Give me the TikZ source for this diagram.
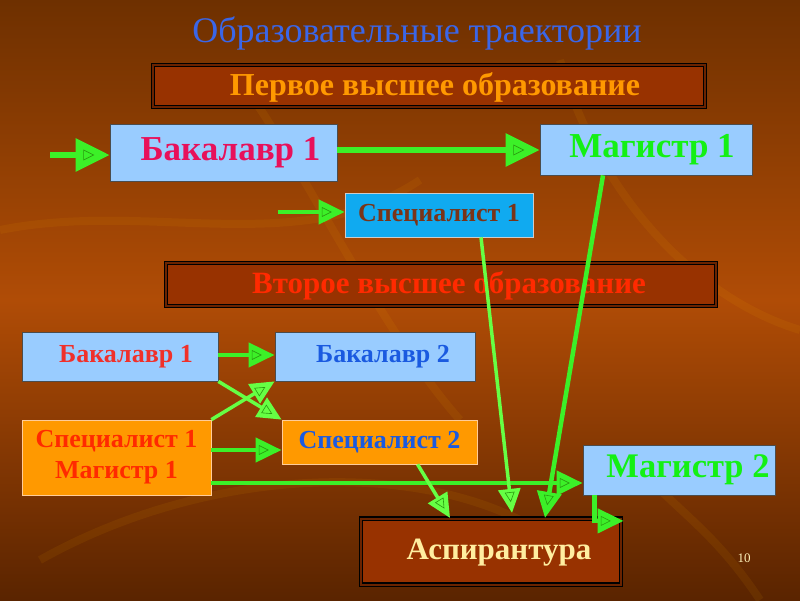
\documentclass[tikz,border=0pt]{standalone}
\usepackage{fontspec}
\setmainfont{Liberation Serif}
\usetikzlibrary{arrows.meta,calc,decorations.markings}
\definecolor{bgtop}{HTML}{6E3000}
\definecolor{bgmid}{HTML}{B04C06}
\definecolor{bgbot}{HTML}{5A2400}
\definecolor{titleblue}{HTML}{3A66E8}
\definecolor{darkbox}{HTML}{983200}
\definecolor{lightblue}{HTML}{99CCFF}
\definecolor{cyanbox}{HTML}{10AAF0}
\definecolor{orangebox}{HTML}{FF9900}
\definecolor{garrow}{HTML}{3CF028}
\definecolor{glight}{HTML}{66FF44}
\definecolor{ginner}{HTML}{2A9A10}
\definecolor{txtpink}{HTML}{E8105A}
\definecolor{txtgreen}{HTML}{14F014}
\definecolor{txtbrown}{HTML}{7A3418}
\definecolor{txtred}{HTML}{FF2A00}
\definecolor{txtred2}{HTML}{F0302A}
\definecolor{txtblue}{HTML}{1A5AE0}
\definecolor{txtcream}{HTML}{FFEEA0}
\begin{document}
\begin{tikzpicture}[x=1pt,y=-1pt,
  every node/.style={inner sep=0pt, font=\bfseries},
  bandbox/.style={draw=black, fill=darkbox, line width=1.2pt, double=darkbox!70!black, double distance=2pt},
  bluebox/.style={draw=black!70, fill=lightblue, line width=0.8pt},
  cyanbx/.style={draw=black!20, fill=cyanbox, line width=0.8pt},
  orbox/.style={draw=orange!40, fill=orangebox, line width=0.8pt},
  inner/.style 2 args={postaction={decorate, decoration={markings,
     mark=at position #1 with {\draw[draw=ginner, line width=0.6pt, arrows=-] (-#2,-#2) -- (#2,0) -- (-#2,#2) -- cycle;}}}},
  bigarrow/.style={draw=garrow, line width=6pt, -{Triangle[length=34pt,width=32pt]}, inner={-21pt}{5}},
  smallarrow/.style={draw=garrow, line width=4.5pt, -{Triangle[length=26pt,width=24pt]}, inner={-18pt}{4.5}},
  thinarrow/.style={draw=glight, line width=3.5pt, -{Triangle[length=24pt,width=22pt]}, inner={-16pt}{4.5}}
]
\useasboundingbox (0,0) rectangle (800,600);
% background
\shade[top color=bgtop, bottom color=bgbot, middle color=bgmid] (0,0) rectangle (800,600);
\begin{scope}[opacity=0.08, line width=8pt, draw=orange!60!yellow]
  \draw (0,230) .. controls (150,200) and (300,260) .. (420,180);
  \draw (240,80) .. controls (300,160) and (380,330) .. (460,420);
  \draw (560,60) .. controls (600,200) and (700,300) .. (800,330);
  \draw (40,560) .. controls (200,470) and (400,460) .. (520,520);
  \draw (650,480) .. controls (690,520) and (720,540) .. (760,600);
\end{scope}
% title
\node[font=\fontsize{36}{40}\selectfont, text=titleblue] (title) at (417,33) {Образовательные траектории};
% band 1
\node[bandbox, minimum width=552pt, minimum height=42pt] (band1) at (429,86) {};
\node[font=\bfseries\fontsize{32}{34}\selectfont, text=orangebox] (band1t) at (435,87) {Первое высшее образование};
% top row
\node[bluebox, minimum width=227pt, minimum height=57pt, font=\bfseries\fontsize{35}{37}\selectfont, text=txtpink] (bak1) at (223.5,152.5) {\hspace*{14pt}Бакалавр 1};
\node[bluebox, minimum width=212pt, minimum height=51pt, font=\bfseries\fontsize{35}{37}\selectfont, text=txtgreen] (mag1) at (646,149.5) {\hspace*{12pt}Магистр 1};
\node[cyanbx, minimum width=188pt, minimum height=44pt, font=\bfseries\fontsize{26}{28}\selectfont, text=txtbrown] (spec1) at (439,215) {Специалист 1};
\coordinate (in1) at (50,155);
\coordinate (in2) at (278,212);
\draw[bigarrow] (in1) -- (in1 -| bak1.west);
\draw[bigarrow] (bak1.east |- 0,150) -- (mag1.west |- 0,150);
\draw[smallarrow] (in2) -- (in2 -| spec1.west);
% band 2
\node[bandbox, minimum width=550pt, minimum height=43pt] (band2) at (441,284.5) {};
\node[font=\bfseries\fontsize{31}{33}\selectfont, text=txtred] (band2t) at (449,286) {Второе высшее образование};
% second section
\node[bluebox, minimum width=196pt, minimum height=49pt, font=\bfseries\fontsize{26}{28}\selectfont, text=txtred2] (bak1b) at (120,356.5) {\hspace*{12pt}Бакалавр 1};
\node[bluebox, minimum width=200pt, minimum height=49pt, font=\bfseries\fontsize{26}{28}\selectfont, text=txtblue] (bak2) at (375,356.5) {\hspace*{16pt}Бакалавр 2};
\node[orbox, minimum width=189pt, minimum height=75pt, font=\bfseries\fontsize{26}{31}\selectfont, text=txtred, align=center] (specmag) at (116.5,457.5) {Специалист 1\\Магистр 1};
\node[orbox, minimum width=195pt, minimum height=44pt, font=\bfseries\fontsize{26}{28}\selectfont, text=txtblue] (spec2) at (379.5,442) {Специалист 2};
\node[bluebox, minimum width=192pt, minimum height=50pt, font=\bfseries\fontsize{34.5}{36}\selectfont, text=txtgreen] (mag2) at (679,470) {\hspace*{18pt}Магистр 2};
\node[bandbox, minimum width=260pt, minimum height=66pt] (asp) at (491,551.5) {};
\node[font=\bfseries\fontsize{31}{33}\selectfont, text=txtcream] (aspt) at (499,553) {Аспирантура};
\node[font=\fontsize{13}{15}\selectfont, text=txtcream!70!white] (pnum) at (744,558) {\mdseries 10};
% second-section arrows
\coordinate (s2b) at ($(spec2.south west)+(136,0)$);
\coordinate (s1b) at ($(spec1.south)+(42,0)$);
\coordinate (m1b) at ($(mag1.south)+(-43,0)$);
\coordinate (m2b) at ($(mag2.south west)+(12,0)$);
\coordinate (aspA) at ($(asp.north west -| 450,0)$);
\coordinate (aspB) at ($(asp.north west -| 512,0)+(0,-5)$);
\coordinate (aspC) at ($(asp.north west -| 545,0)$);
\draw[smallarrow] (bak1b.east |- 0,355) -- (bak2.west |- 0,355);
\draw[thinarrow] (specmag.north east) -- (bak2.south west);
\draw[thinarrow] (bak1b.south east) -- (spec2.north west);
\draw[smallarrow] (specmag.east |- 0,450) -- (spec2.west |- 0,450);
\draw[smallarrow] (specmag.east |- 0,483) -- (mag2.west |- 0,483);
\draw[thinarrow] (s2b) -- (aspA);
\draw[thinarrow] (s1b) -- (aspB);
\draw[smallarrow] (m1b) -- (aspC);
\draw[smallarrow] (m2b) |- ($(asp.north east)+(2,3)$);
\end{tikzpicture}
\end{document}
